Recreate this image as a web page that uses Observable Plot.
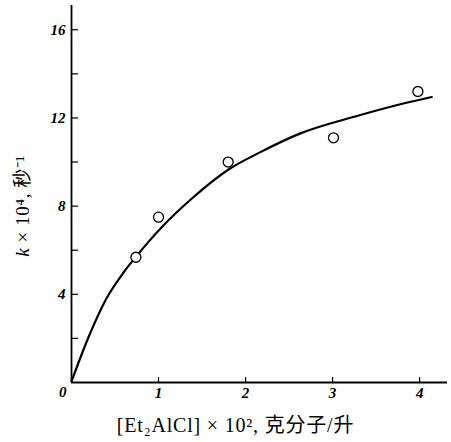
<!DOCTYPE html>
<html>
<head>
<meta charset="utf-8">
<script src="https://cdn.jsdelivr.net/npm/d3@7"></script>
<script src="https://cdn.jsdelivr.net/npm/@observablehq/plot@0.6"></script>
<style>
  html, body { margin: 0; padding: 0; background: #fff; }
  svg { display: block; }
</style>
</head>
<body>
<div id="chart"></div>
<script>
// Measured points: [Et2AlCl]×10² vs k×10⁴
const pointX = [0.74, 1.0, 1.8, 3.01, 3.98];
const pointY = [5.68, 7.5, 10.0, 11.1, 13.2];

// Fitted curve
const curveX = [0.0, 0.2, 0.4, 0.6, 0.75, 1.05, 1.37, 1.8, 2.17, 2.63, 3.29, 3.86, 4.14];
const curveY = [0.05, 2.1, 3.8, 5.0, 5.75, 7.1, 8.3, 9.65, 10.45, 11.3, 12.1, 12.7, 12.95];

const xTicks = [1, 2, 3, 4];
const yTickLabels = [4, 8, 12, 16];
const yZeroLabel = [0];
const yTicksAll = [2, 4, 6, 8, 10, 12, 14, 16];

const xTitle = "[Et₂AlCl] × 10², 克分子/升";
const yTitleItalic = "k";
const yTitleRest = " × 10⁴, 秒⁻¹";

const points = pointX.map((x, i) => ({x, y: pointY[i]}));
const curve = curveX.map((x, i) => ({x, y: curveY[i]}));

const numFont = "'Liberation Serif', serif";
const numStyle = {fontSize: 15, fontStyle: "italic", fontWeight: "bold", fontFamily: numFont};

const chart = Plot.plot({
  width: 451,
  height: 442,
  marginLeft: 71,
  marginRight: 4,
  marginTop: 5,
  marginBottom: 60,
  style: {background: "#fff", color: "#000"},
  x: {domain: [0, 4.32]},
  y: {domain: [0, 17.1]},
  marks: [
    Plot.line(curve, {x: "x", y: "y", curve: "monotone-x", stroke: "#000", strokeWidth: 2.2}),
    Plot.dot(points, {x: "x", y: "y", r: 5, stroke: "#000", strokeWidth: 1.3, fill: "#fff"}),
    Plot.ruleX([0], {stroke: "#000", strokeWidth: 1.8}),
    Plot.ruleY([0], {stroke: "#000", strokeWidth: 1.8}),
    Plot.axisY(yTicksAll, {tickSize: -7, strokeWidth: 1.2, text: null, label: null}),
    Plot.axisY(yTickLabels, {tickSize: 0, tickPadding: 6, ...numStyle, label: "Y", labelAnchor: "center", labelOffset: 56}),
    Plot.axisY(yZeroLabel, {tickSize: 0, tickPadding: 5, dy: 10, ...numStyle, label: null}),
    Plot.axisX(xTicks, {tickSize: -5, strokeWidth: 1.2, text: null, label: null}),
    Plot.axisX(xTicks, {tickSize: 0, tickPadding: 5, ...numStyle, label: "X", labelAnchor: "center", labelOffset: 49})
  ]
});
document.getElementById("chart").appendChild(chart);

const titleFont = "'Liberation Serif', 'Noto Sans CJK SC', serif";
const xl = d3.select(chart).select("[aria-label='x-axis label'] text");
xl.text(xTitle)
  .attr("dx", -24)
  .style("font-size", "20px")
  .style("letter-spacing", "0.8px")
  .style("font-style", "normal").style("font-weight", "normal")
  .style("font-family", titleFont);
const yl = d3.select(chart).select("[aria-label='y-axis label'] text");
yl.text(null)
  .attr("dx", -12)
  .style("font-size", "19px")
  .style("letter-spacing", "0.6px")
  .style("font-weight", "normal")
  .style("font-family", titleFont);
yl.append("tspan").text(yTitleItalic).style("font-style", "italic");
yl.append("tspan").text(yTitleRest).style("font-style", "normal");
</script>
</body>
</html>
